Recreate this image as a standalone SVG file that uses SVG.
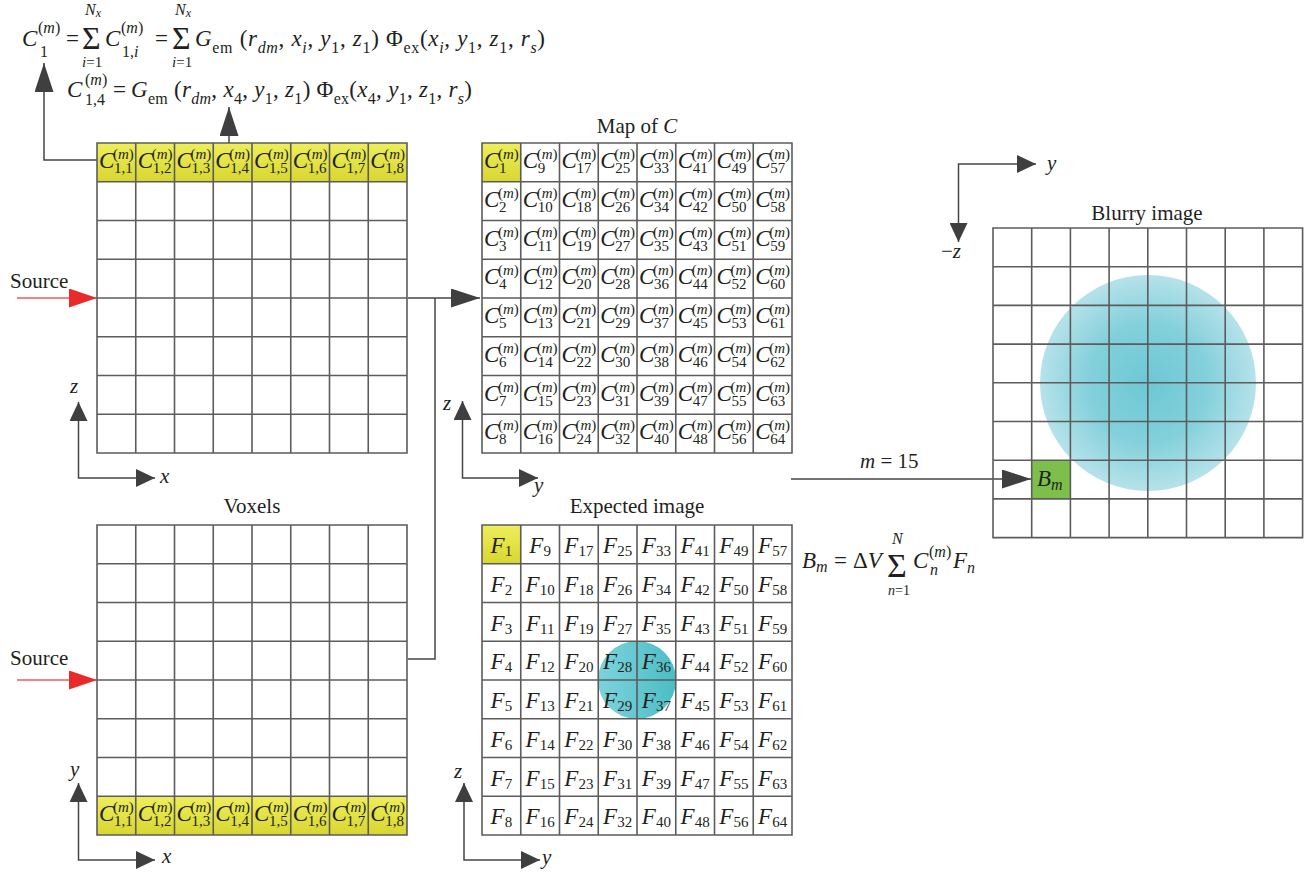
<svg xmlns="http://www.w3.org/2000/svg" xmlns:xlink="http://www.w3.org/1999/xlink" width="1307" height="874" viewBox="0 0 1307 874">
<style>
text{font-family:'Liberation Serif','DejaVu Serif',serif;fill:#231f20}
.it{font-style:italic}
.t21{font-size:21px}
.f23{font-size:23px}
.s16{font-size:16px}
.s15{font-size:15px}
.s14{font-size:14px}
.s12{font-size:12px}
.sig{font-size:32px}
.sigb{font-size:34px}
.cC{font-size:23px;font-style:italic}
.cs{font-size:15px}
.fl{font-size:23px;text-anchor:middle}
.fs{font-size:15px}
.ttl{font-size:21px;text-anchor:middle}
.grid{fill:none;stroke:#5c5c5c;stroke-width:1.6}
.con{fill:none;stroke:#454545;stroke-width:1.5}
.axis{fill:none;stroke:#454545;stroke-width:1.5;marker-start:url(#ax);marker-end:url(#ax)}
.red{fill:none;stroke:#f05a5a;stroke-width:1.5;marker-end:url(#ar)}
.yel{fill:url(#yg)}
</style>
<defs>
<linearGradient id="yg" x1="0" y1="0" x2="0" y2="1"><stop offset="0" stop-color="#eeee5c"/><stop offset="1" stop-color="#d8d630"/></linearGradient>
<radialGradient id="bg" cx="0.5" cy="0.5" r="0.5"><stop offset="0" stop-color="#6cc8d4"/><stop offset="0.55" stop-color="#83d0db"/><stop offset="1" stop-color="#b6e2ea"/></radialGradient>
<linearGradient id="eg" x1="0" y1="0" x2="1" y2="0"><stop offset="0" stop-color="#7dd3dc"/><stop offset="1" stop-color="#4bbdc5"/></linearGradient>
<marker id="ah" markerUnits="userSpaceOnUse" markerWidth="29" markerHeight="19" refX="29" refY="9.5" orient="auto"><path d="M0,0L29,9.5L0,19Z" fill="#3f3f3f"/></marker>
<marker id="ax" markerUnits="userSpaceOnUse" markerWidth="19" markerHeight="18" refX="19" refY="9" orient="auto-start-reverse"><path d="M0,0L19,9L0,18Z" fill="#3f3f3f"/></marker>
<marker id="ar" markerUnits="userSpaceOnUse" markerWidth="28" markerHeight="19" refX="28" refY="9.5" orient="auto"><path d="M0,0L28,9.5L0,19Z" fill="#e82a2a"/></marker>
<path id="g8" class="grid" d="M0,0H310V310H0Z M38.75,0V310 M77.5,0V310 M116.25,0V310 M155,0V310 M193.75,0V310 M232.5,0V310 M271.25,0V310 M0,38.75H310 M0,77.5H310 M0,116.25H310 M0,155H310 M0,193.75H310 M0,232.5H310 M0,271.25H310"/>
</defs>
<rect width="1307" height="874" fill="#fff"/>

<g id="formulas">
<g id="formula-c1" class="f23">
<text x="22" y="46" class="it">C</text>
<text x="38" y="33" class="s16">(<tspan class="it">m</tspan>)</text>
<text x="40" y="57" class="s16">1</text>
<text x="66" y="46">=</text>
<text x="82" y="49" class="sig">Σ</text>
<text x="85" y="15" class="s16 it">N<tspan class="s12" dy="2">x</tspan></text>
<text x="82" y="67" class="s15"><tspan class="it">i</tspan>=1</text>
<text x="105" y="46" class="it">C</text>
<text x="121" y="33" class="s16">(<tspan class="it">m</tspan>)</text>
<text x="122" y="57" class="s16">1,<tspan class="it">i</tspan></text>
<text x="155" y="46">=</text>
<text x="172" y="49" class="sig">Σ</text>
<text x="175" y="15" class="s16 it">N<tspan class="s12" dy="2">x</tspan></text>
<text x="172" y="67" class="s15"><tspan class="it">i</tspan>=1</text>
<text x="195" y="46" textLength="350" lengthAdjust="spacing"><tspan class="it">G</tspan><tspan class="s16" dy="7">em</tspan><tspan dy="-7"> (</tspan><tspan class="it">r</tspan><tspan class="s16 it" dy="7">dm</tspan><tspan dy="-7">, </tspan><tspan class="it">x</tspan><tspan class="s16 it" dy="7">i</tspan><tspan dy="-7">, </tspan><tspan class="it">y</tspan><tspan class="s16" dy="7">1</tspan><tspan dy="-7">, </tspan><tspan class="it">z</tspan><tspan class="s16" dy="7">1</tspan><tspan dy="-7">) Φ</tspan><tspan class="s16" dy="7">ex</tspan><tspan dy="-7">(</tspan><tspan class="it">x</tspan><tspan class="s16 it" dy="7">i</tspan><tspan dy="-7">, </tspan><tspan class="it">y</tspan><tspan class="s16" dy="7">1</tspan><tspan dy="-7">, </tspan><tspan class="it">z</tspan><tspan class="s16" dy="7">1</tspan><tspan dy="-7">, </tspan><tspan class="it">r</tspan><tspan class="s16 it" dy="7">s</tspan><tspan dy="-7">)</tspan></text>
</g>
<g id="formula-c14" class="f23">
<text x="67" y="97" class="it">C</text>
<text x="85" y="85" class="s16">(<tspan class="it">m</tspan>)</text>
<text x="85" y="105" class="s16">1,4</text>
<text x="113" y="97">=</text>
<text x="131" y="97" textLength="341" lengthAdjust="spacing"><tspan class="it">G</tspan><tspan class="s16" dy="7">em</tspan><tspan dy="-7"> (</tspan><tspan class="it">r</tspan><tspan class="s16 it" dy="7">dm</tspan><tspan dy="-7">, </tspan><tspan class="it">x</tspan><tspan class="s16" dy="7">4</tspan><tspan dy="-7">, </tspan><tspan class="it">y</tspan><tspan class="s16" dy="7">1</tspan><tspan dy="-7">, </tspan><tspan class="it">z</tspan><tspan class="s16" dy="7">1</tspan><tspan dy="-7">) Φ</tspan><tspan class="s16" dy="7">ex</tspan><tspan dy="-7">(</tspan><tspan class="it">x</tspan><tspan class="s16" dy="7">4</tspan><tspan dy="-7">, </tspan><tspan class="it">y</tspan><tspan class="s16" dy="7">1</tspan><tspan dy="-7">, </tspan><tspan class="it">z</tspan><tspan class="s16" dy="7">1</tspan><tspan dy="-7">, </tspan><tspan class="it">r</tspan><tspan class="s16 it" dy="7">s</tspan><tspan dy="-7">)</tspan></text>
</g>
<g id="formula-bm" class="f23">
<text x="802" y="568" class="it">B<tspan class="s16" dy="4">m</tspan></text>
<text x="834" y="568">=</text>
<text x="853" y="568">Δ<tspan class="it">V</tspan></text>
<text x="887" y="577" class="sigb">Σ</text>
<text x="892" y="544" class="s16 it">N</text>
<text x="888" y="595" class="s14"><tspan class="it">n</tspan>=1</text>
<text x="913" y="568" class="it">C</text>
<text x="929" y="557" class="s16">(<tspan class="it">m</tspan>)</text>
<text x="930" y="575" class="s16 it">n</text>
<text x="953" y="568" class="it">F<tspan class="s16" dy="5">n</tspan></text>
</g>
</g>

<g id="connectors">
<path class="con" d="M97,160H44V63" marker-end="url(#ah)"/>
<path class="con" d="M229,152V107" marker-end="url(#ah)"/>
<path class="con" d="M408,298H480" marker-end="url(#ah)"/>
<path class="con" d="M408,659H435V298"/>
<path class="con" d="M791,479H1031" marker-end="url(#ah)"/>
<path class="red" d="M17,298H97"/>
<path class="red" d="M17,680H97"/>
<text x="10" y="288" class="t21">Source</text>
<text x="10" y="665" class="t21">Source</text>
<text x="860" y="468" class="t21"><tspan class="it">m</tspan> = 15</text>
</g>

<g id="axes">
<path class="axis" d="M78.5,402V478H155"/>
<text x="70" y="393" class="t21 it">z</text>
<text x="160" y="483" class="t21 it">x</text>
<path class="axis" d="M78.5,783V860H155"/>
<text x="70" y="776" class="t21 it">y</text>
<text x="162" y="863" class="t21 it">x</text>
<path class="axis" d="M462.5,401V478H538"/>
<text x="443" y="410" class="t21 it">z</text>
<text x="534" y="492" class="t21 it">y</text>
<path class="axis" d="M464,783V860H540"/>
<text x="454" y="778" class="t21 it">z</text>
<text x="542" y="864" class="t21 it">y</text>
<path class="axis" d="M1036,164H958.5V242"/>
<text x="1047" y="170" class="t21 it">y</text>
<text x="941" y="258" class="t21">−<tspan class="it">z</tspan></text>
</g>

<g id="grid-top">
<rect class="yel" x="97" y="143" width="310" height="38.75"/>
<use xlink:href="#g8" x="97" y="143"/>
<text transform="translate(97,143)"><tspan x="2" y="25" class="cC">C</tspan><tspan x="16" y="16" class="cs">(<tspan class="it">m</tspan>)</tspan><tspan x="17" y="30" class="cs">1,1</tspan></text>
<text transform="translate(135.75,143)"><tspan x="2" y="25" class="cC">C</tspan><tspan x="16" y="16" class="cs">(<tspan class="it">m</tspan>)</tspan><tspan x="17" y="30" class="cs">1,2</tspan></text>
<text transform="translate(174.5,143)"><tspan x="2" y="25" class="cC">C</tspan><tspan x="16" y="16" class="cs">(<tspan class="it">m</tspan>)</tspan><tspan x="17" y="30" class="cs">1,3</tspan></text>
<text transform="translate(213.25,143)"><tspan x="2" y="25" class="cC">C</tspan><tspan x="16" y="16" class="cs">(<tspan class="it">m</tspan>)</tspan><tspan x="17" y="30" class="cs">1,4</tspan></text>
<text transform="translate(252,143)"><tspan x="2" y="25" class="cC">C</tspan><tspan x="16" y="16" class="cs">(<tspan class="it">m</tspan>)</tspan><tspan x="17" y="30" class="cs">1,5</tspan></text>
<text transform="translate(290.75,143)"><tspan x="2" y="25" class="cC">C</tspan><tspan x="16" y="16" class="cs">(<tspan class="it">m</tspan>)</tspan><tspan x="17" y="30" class="cs">1,6</tspan></text>
<text transform="translate(329.5,143)"><tspan x="2" y="25" class="cC">C</tspan><tspan x="16" y="16" class="cs">(<tspan class="it">m</tspan>)</tspan><tspan x="17" y="30" class="cs">1,7</tspan></text>
<text transform="translate(368.25,143)"><tspan x="2" y="25" class="cC">C</tspan><tspan x="16" y="16" class="cs">(<tspan class="it">m</tspan>)</tspan><tspan x="17" y="30" class="cs">1,8</tspan></text>
</g>

<g id="voxels">
<text x="252" y="513" class="ttl">Voxels</text>
<rect class="yel" x="97" y="796.25" width="310" height="38.75"/>
<use xlink:href="#g8" x="97" y="525"/>
<text transform="translate(97,796.25)"><tspan x="2" y="25" class="cC">C</tspan><tspan x="16" y="16" class="cs">(<tspan class="it">m</tspan>)</tspan><tspan x="17" y="30" class="cs">1,1</tspan></text>
<text transform="translate(135.75,796.25)"><tspan x="2" y="25" class="cC">C</tspan><tspan x="16" y="16" class="cs">(<tspan class="it">m</tspan>)</tspan><tspan x="17" y="30" class="cs">1,2</tspan></text>
<text transform="translate(174.5,796.25)"><tspan x="2" y="25" class="cC">C</tspan><tspan x="16" y="16" class="cs">(<tspan class="it">m</tspan>)</tspan><tspan x="17" y="30" class="cs">1,3</tspan></text>
<text transform="translate(213.25,796.25)"><tspan x="2" y="25" class="cC">C</tspan><tspan x="16" y="16" class="cs">(<tspan class="it">m</tspan>)</tspan><tspan x="17" y="30" class="cs">1,4</tspan></text>
<text transform="translate(252,796.25)"><tspan x="2" y="25" class="cC">C</tspan><tspan x="16" y="16" class="cs">(<tspan class="it">m</tspan>)</tspan><tspan x="17" y="30" class="cs">1,5</tspan></text>
<text transform="translate(290.75,796.25)"><tspan x="2" y="25" class="cC">C</tspan><tspan x="16" y="16" class="cs">(<tspan class="it">m</tspan>)</tspan><tspan x="17" y="30" class="cs">1,6</tspan></text>
<text transform="translate(329.5,796.25)"><tspan x="2" y="25" class="cC">C</tspan><tspan x="16" y="16" class="cs">(<tspan class="it">m</tspan>)</tspan><tspan x="17" y="30" class="cs">1,7</tspan></text>
<text transform="translate(368.25,796.25)"><tspan x="2" y="25" class="cC">C</tspan><tspan x="16" y="16" class="cs">(<tspan class="it">m</tspan>)</tspan><tspan x="17" y="30" class="cs">1,8</tspan></text>
</g>

<g id="map-of-c">
<text x="637" y="133" class="ttl">Map of <tspan class="it">C</tspan></text>
<rect class="yel" x="482" y="143" width="38.75" height="38.75"/>
<use xlink:href="#g8" x="482" y="143"/>
<g id="map-labels">
<text transform="translate(482,143)"><tspan x="2" y="25" class="cC">C</tspan><tspan x="16" y="16" class="cs">(<tspan class="it">m</tspan>)</tspan><tspan x="17" y="30" class="cs">1</tspan></text>
<text transform="translate(520.75,143)"><tspan x="2" y="25" class="cC">C</tspan><tspan x="16" y="16" class="cs">(<tspan class="it">m</tspan>)</tspan><tspan x="17" y="30" class="cs">9</tspan></text>
<text transform="translate(559.5,143)"><tspan x="2" y="25" class="cC">C</tspan><tspan x="16" y="16" class="cs">(<tspan class="it">m</tspan>)</tspan><tspan x="17" y="30" class="cs">17</tspan></text>
<text transform="translate(598.25,143)"><tspan x="2" y="25" class="cC">C</tspan><tspan x="16" y="16" class="cs">(<tspan class="it">m</tspan>)</tspan><tspan x="17" y="30" class="cs">25</tspan></text>
<text transform="translate(637,143)"><tspan x="2" y="25" class="cC">C</tspan><tspan x="16" y="16" class="cs">(<tspan class="it">m</tspan>)</tspan><tspan x="17" y="30" class="cs">33</tspan></text>
<text transform="translate(675.75,143)"><tspan x="2" y="25" class="cC">C</tspan><tspan x="16" y="16" class="cs">(<tspan class="it">m</tspan>)</tspan><tspan x="17" y="30" class="cs">41</tspan></text>
<text transform="translate(714.5,143)"><tspan x="2" y="25" class="cC">C</tspan><tspan x="16" y="16" class="cs">(<tspan class="it">m</tspan>)</tspan><tspan x="17" y="30" class="cs">49</tspan></text>
<text transform="translate(753.25,143)"><tspan x="2" y="25" class="cC">C</tspan><tspan x="16" y="16" class="cs">(<tspan class="it">m</tspan>)</tspan><tspan x="17" y="30" class="cs">57</tspan></text>
<text transform="translate(482,181.75)"><tspan x="2" y="25" class="cC">C</tspan><tspan x="16" y="16" class="cs">(<tspan class="it">m</tspan>)</tspan><tspan x="17" y="30" class="cs">2</tspan></text>
<text transform="translate(520.75,181.75)"><tspan x="2" y="25" class="cC">C</tspan><tspan x="16" y="16" class="cs">(<tspan class="it">m</tspan>)</tspan><tspan x="17" y="30" class="cs">10</tspan></text>
<text transform="translate(559.5,181.75)"><tspan x="2" y="25" class="cC">C</tspan><tspan x="16" y="16" class="cs">(<tspan class="it">m</tspan>)</tspan><tspan x="17" y="30" class="cs">18</tspan></text>
<text transform="translate(598.25,181.75)"><tspan x="2" y="25" class="cC">C</tspan><tspan x="16" y="16" class="cs">(<tspan class="it">m</tspan>)</tspan><tspan x="17" y="30" class="cs">26</tspan></text>
<text transform="translate(637,181.75)"><tspan x="2" y="25" class="cC">C</tspan><tspan x="16" y="16" class="cs">(<tspan class="it">m</tspan>)</tspan><tspan x="17" y="30" class="cs">34</tspan></text>
<text transform="translate(675.75,181.75)"><tspan x="2" y="25" class="cC">C</tspan><tspan x="16" y="16" class="cs">(<tspan class="it">m</tspan>)</tspan><tspan x="17" y="30" class="cs">42</tspan></text>
<text transform="translate(714.5,181.75)"><tspan x="2" y="25" class="cC">C</tspan><tspan x="16" y="16" class="cs">(<tspan class="it">m</tspan>)</tspan><tspan x="17" y="30" class="cs">50</tspan></text>
<text transform="translate(753.25,181.75)"><tspan x="2" y="25" class="cC">C</tspan><tspan x="16" y="16" class="cs">(<tspan class="it">m</tspan>)</tspan><tspan x="17" y="30" class="cs">58</tspan></text>
<text transform="translate(482,220.5)"><tspan x="2" y="25" class="cC">C</tspan><tspan x="16" y="16" class="cs">(<tspan class="it">m</tspan>)</tspan><tspan x="17" y="30" class="cs">3</tspan></text>
<text transform="translate(520.75,220.5)"><tspan x="2" y="25" class="cC">C</tspan><tspan x="16" y="16" class="cs">(<tspan class="it">m</tspan>)</tspan><tspan x="17" y="30" class="cs">11</tspan></text>
<text transform="translate(559.5,220.5)"><tspan x="2" y="25" class="cC">C</tspan><tspan x="16" y="16" class="cs">(<tspan class="it">m</tspan>)</tspan><tspan x="17" y="30" class="cs">19</tspan></text>
<text transform="translate(598.25,220.5)"><tspan x="2" y="25" class="cC">C</tspan><tspan x="16" y="16" class="cs">(<tspan class="it">m</tspan>)</tspan><tspan x="17" y="30" class="cs">27</tspan></text>
<text transform="translate(637,220.5)"><tspan x="2" y="25" class="cC">C</tspan><tspan x="16" y="16" class="cs">(<tspan class="it">m</tspan>)</tspan><tspan x="17" y="30" class="cs">35</tspan></text>
<text transform="translate(675.75,220.5)"><tspan x="2" y="25" class="cC">C</tspan><tspan x="16" y="16" class="cs">(<tspan class="it">m</tspan>)</tspan><tspan x="17" y="30" class="cs">43</tspan></text>
<text transform="translate(714.5,220.5)"><tspan x="2" y="25" class="cC">C</tspan><tspan x="16" y="16" class="cs">(<tspan class="it">m</tspan>)</tspan><tspan x="17" y="30" class="cs">51</tspan></text>
<text transform="translate(753.25,220.5)"><tspan x="2" y="25" class="cC">C</tspan><tspan x="16" y="16" class="cs">(<tspan class="it">m</tspan>)</tspan><tspan x="17" y="30" class="cs">59</tspan></text>
<text transform="translate(482,259.25)"><tspan x="2" y="25" class="cC">C</tspan><tspan x="16" y="16" class="cs">(<tspan class="it">m</tspan>)</tspan><tspan x="17" y="30" class="cs">4</tspan></text>
<text transform="translate(520.75,259.25)"><tspan x="2" y="25" class="cC">C</tspan><tspan x="16" y="16" class="cs">(<tspan class="it">m</tspan>)</tspan><tspan x="17" y="30" class="cs">12</tspan></text>
<text transform="translate(559.5,259.25)"><tspan x="2" y="25" class="cC">C</tspan><tspan x="16" y="16" class="cs">(<tspan class="it">m</tspan>)</tspan><tspan x="17" y="30" class="cs">20</tspan></text>
<text transform="translate(598.25,259.25)"><tspan x="2" y="25" class="cC">C</tspan><tspan x="16" y="16" class="cs">(<tspan class="it">m</tspan>)</tspan><tspan x="17" y="30" class="cs">28</tspan></text>
<text transform="translate(637,259.25)"><tspan x="2" y="25" class="cC">C</tspan><tspan x="16" y="16" class="cs">(<tspan class="it">m</tspan>)</tspan><tspan x="17" y="30" class="cs">36</tspan></text>
<text transform="translate(675.75,259.25)"><tspan x="2" y="25" class="cC">C</tspan><tspan x="16" y="16" class="cs">(<tspan class="it">m</tspan>)</tspan><tspan x="17" y="30" class="cs">44</tspan></text>
<text transform="translate(714.5,259.25)"><tspan x="2" y="25" class="cC">C</tspan><tspan x="16" y="16" class="cs">(<tspan class="it">m</tspan>)</tspan><tspan x="17" y="30" class="cs">52</tspan></text>
<text transform="translate(753.25,259.25)"><tspan x="2" y="25" class="cC">C</tspan><tspan x="16" y="16" class="cs">(<tspan class="it">m</tspan>)</tspan><tspan x="17" y="30" class="cs">60</tspan></text>
<text transform="translate(482,298)"><tspan x="2" y="25" class="cC">C</tspan><tspan x="16" y="16" class="cs">(<tspan class="it">m</tspan>)</tspan><tspan x="17" y="30" class="cs">5</tspan></text>
<text transform="translate(520.75,298)"><tspan x="2" y="25" class="cC">C</tspan><tspan x="16" y="16" class="cs">(<tspan class="it">m</tspan>)</tspan><tspan x="17" y="30" class="cs">13</tspan></text>
<text transform="translate(559.5,298)"><tspan x="2" y="25" class="cC">C</tspan><tspan x="16" y="16" class="cs">(<tspan class="it">m</tspan>)</tspan><tspan x="17" y="30" class="cs">21</tspan></text>
<text transform="translate(598.25,298)"><tspan x="2" y="25" class="cC">C</tspan><tspan x="16" y="16" class="cs">(<tspan class="it">m</tspan>)</tspan><tspan x="17" y="30" class="cs">29</tspan></text>
<text transform="translate(637,298)"><tspan x="2" y="25" class="cC">C</tspan><tspan x="16" y="16" class="cs">(<tspan class="it">m</tspan>)</tspan><tspan x="17" y="30" class="cs">37</tspan></text>
<text transform="translate(675.75,298)"><tspan x="2" y="25" class="cC">C</tspan><tspan x="16" y="16" class="cs">(<tspan class="it">m</tspan>)</tspan><tspan x="17" y="30" class="cs">45</tspan></text>
<text transform="translate(714.5,298)"><tspan x="2" y="25" class="cC">C</tspan><tspan x="16" y="16" class="cs">(<tspan class="it">m</tspan>)</tspan><tspan x="17" y="30" class="cs">53</tspan></text>
<text transform="translate(753.25,298)"><tspan x="2" y="25" class="cC">C</tspan><tspan x="16" y="16" class="cs">(<tspan class="it">m</tspan>)</tspan><tspan x="17" y="30" class="cs">61</tspan></text>
<text transform="translate(482,336.75)"><tspan x="2" y="25" class="cC">C</tspan><tspan x="16" y="16" class="cs">(<tspan class="it">m</tspan>)</tspan><tspan x="17" y="30" class="cs">6</tspan></text>
<text transform="translate(520.75,336.75)"><tspan x="2" y="25" class="cC">C</tspan><tspan x="16" y="16" class="cs">(<tspan class="it">m</tspan>)</tspan><tspan x="17" y="30" class="cs">14</tspan></text>
<text transform="translate(559.5,336.75)"><tspan x="2" y="25" class="cC">C</tspan><tspan x="16" y="16" class="cs">(<tspan class="it">m</tspan>)</tspan><tspan x="17" y="30" class="cs">22</tspan></text>
<text transform="translate(598.25,336.75)"><tspan x="2" y="25" class="cC">C</tspan><tspan x="16" y="16" class="cs">(<tspan class="it">m</tspan>)</tspan><tspan x="17" y="30" class="cs">30</tspan></text>
<text transform="translate(637,336.75)"><tspan x="2" y="25" class="cC">C</tspan><tspan x="16" y="16" class="cs">(<tspan class="it">m</tspan>)</tspan><tspan x="17" y="30" class="cs">38</tspan></text>
<text transform="translate(675.75,336.75)"><tspan x="2" y="25" class="cC">C</tspan><tspan x="16" y="16" class="cs">(<tspan class="it">m</tspan>)</tspan><tspan x="17" y="30" class="cs">46</tspan></text>
<text transform="translate(714.5,336.75)"><tspan x="2" y="25" class="cC">C</tspan><tspan x="16" y="16" class="cs">(<tspan class="it">m</tspan>)</tspan><tspan x="17" y="30" class="cs">54</tspan></text>
<text transform="translate(753.25,336.75)"><tspan x="2" y="25" class="cC">C</tspan><tspan x="16" y="16" class="cs">(<tspan class="it">m</tspan>)</tspan><tspan x="17" y="30" class="cs">62</tspan></text>
<text transform="translate(482,375.5)"><tspan x="2" y="25" class="cC">C</tspan><tspan x="16" y="16" class="cs">(<tspan class="it">m</tspan>)</tspan><tspan x="17" y="30" class="cs">7</tspan></text>
<text transform="translate(520.75,375.5)"><tspan x="2" y="25" class="cC">C</tspan><tspan x="16" y="16" class="cs">(<tspan class="it">m</tspan>)</tspan><tspan x="17" y="30" class="cs">15</tspan></text>
<text transform="translate(559.5,375.5)"><tspan x="2" y="25" class="cC">C</tspan><tspan x="16" y="16" class="cs">(<tspan class="it">m</tspan>)</tspan><tspan x="17" y="30" class="cs">23</tspan></text>
<text transform="translate(598.25,375.5)"><tspan x="2" y="25" class="cC">C</tspan><tspan x="16" y="16" class="cs">(<tspan class="it">m</tspan>)</tspan><tspan x="17" y="30" class="cs">31</tspan></text>
<text transform="translate(637,375.5)"><tspan x="2" y="25" class="cC">C</tspan><tspan x="16" y="16" class="cs">(<tspan class="it">m</tspan>)</tspan><tspan x="17" y="30" class="cs">39</tspan></text>
<text transform="translate(675.75,375.5)"><tspan x="2" y="25" class="cC">C</tspan><tspan x="16" y="16" class="cs">(<tspan class="it">m</tspan>)</tspan><tspan x="17" y="30" class="cs">47</tspan></text>
<text transform="translate(714.5,375.5)"><tspan x="2" y="25" class="cC">C</tspan><tspan x="16" y="16" class="cs">(<tspan class="it">m</tspan>)</tspan><tspan x="17" y="30" class="cs">55</tspan></text>
<text transform="translate(753.25,375.5)"><tspan x="2" y="25" class="cC">C</tspan><tspan x="16" y="16" class="cs">(<tspan class="it">m</tspan>)</tspan><tspan x="17" y="30" class="cs">63</tspan></text>
<text transform="translate(482,414.25)"><tspan x="2" y="25" class="cC">C</tspan><tspan x="16" y="16" class="cs">(<tspan class="it">m</tspan>)</tspan><tspan x="17" y="30" class="cs">8</tspan></text>
<text transform="translate(520.75,414.25)"><tspan x="2" y="25" class="cC">C</tspan><tspan x="16" y="16" class="cs">(<tspan class="it">m</tspan>)</tspan><tspan x="17" y="30" class="cs">16</tspan></text>
<text transform="translate(559.5,414.25)"><tspan x="2" y="25" class="cC">C</tspan><tspan x="16" y="16" class="cs">(<tspan class="it">m</tspan>)</tspan><tspan x="17" y="30" class="cs">24</tspan></text>
<text transform="translate(598.25,414.25)"><tspan x="2" y="25" class="cC">C</tspan><tspan x="16" y="16" class="cs">(<tspan class="it">m</tspan>)</tspan><tspan x="17" y="30" class="cs">32</tspan></text>
<text transform="translate(637,414.25)"><tspan x="2" y="25" class="cC">C</tspan><tspan x="16" y="16" class="cs">(<tspan class="it">m</tspan>)</tspan><tspan x="17" y="30" class="cs">40</tspan></text>
<text transform="translate(675.75,414.25)"><tspan x="2" y="25" class="cC">C</tspan><tspan x="16" y="16" class="cs">(<tspan class="it">m</tspan>)</tspan><tspan x="17" y="30" class="cs">48</tspan></text>
<text transform="translate(714.5,414.25)"><tspan x="2" y="25" class="cC">C</tspan><tspan x="16" y="16" class="cs">(<tspan class="it">m</tspan>)</tspan><tspan x="17" y="30" class="cs">56</tspan></text>
<text transform="translate(753.25,414.25)"><tspan x="2" y="25" class="cC">C</tspan><tspan x="16" y="16" class="cs">(<tspan class="it">m</tspan>)</tspan><tspan x="17" y="30" class="cs">64</tspan></text>
</g>
</g>

<g id="expected-image">
<text x="637" y="513" class="ttl">Expected image</text>
<rect class="yel" x="482" y="525" width="38.75" height="38.75"/>
<circle cx="637" cy="680" r="39" fill="url(#eg)"/>
<use xlink:href="#g8" x="482" y="525"/>
<g id="f-labels">
<text x="501.4" y="553" class="fl"><tspan class="it">F</tspan><tspan class="fs" dy="3">1</tspan></text>
<text x="540.15" y="553" class="fl"><tspan class="it">F</tspan><tspan class="fs" dy="3">9</tspan></text>
<text x="578.9" y="553" class="fl"><tspan class="it">F</tspan><tspan class="fs" dy="3">17</tspan></text>
<text x="617.65" y="553" class="fl"><tspan class="it">F</tspan><tspan class="fs" dy="3">25</tspan></text>
<text x="656.4" y="553" class="fl"><tspan class="it">F</tspan><tspan class="fs" dy="3">33</tspan></text>
<text x="695.15" y="553" class="fl"><tspan class="it">F</tspan><tspan class="fs" dy="3">41</tspan></text>
<text x="733.9" y="553" class="fl"><tspan class="it">F</tspan><tspan class="fs" dy="3">49</tspan></text>
<text x="772.65" y="553" class="fl"><tspan class="it">F</tspan><tspan class="fs" dy="3">57</tspan></text>
<text x="501.4" y="591.75" class="fl"><tspan class="it">F</tspan><tspan class="fs" dy="3">2</tspan></text>
<text x="540.15" y="591.75" class="fl"><tspan class="it">F</tspan><tspan class="fs" dy="3">10</tspan></text>
<text x="578.9" y="591.75" class="fl"><tspan class="it">F</tspan><tspan class="fs" dy="3">18</tspan></text>
<text x="617.65" y="591.75" class="fl"><tspan class="it">F</tspan><tspan class="fs" dy="3">26</tspan></text>
<text x="656.4" y="591.75" class="fl"><tspan class="it">F</tspan><tspan class="fs" dy="3">34</tspan></text>
<text x="695.15" y="591.75" class="fl"><tspan class="it">F</tspan><tspan class="fs" dy="3">42</tspan></text>
<text x="733.9" y="591.75" class="fl"><tspan class="it">F</tspan><tspan class="fs" dy="3">50</tspan></text>
<text x="772.65" y="591.75" class="fl"><tspan class="it">F</tspan><tspan class="fs" dy="3">58</tspan></text>
<text x="501.4" y="630.5" class="fl"><tspan class="it">F</tspan><tspan class="fs" dy="3">3</tspan></text>
<text x="540.15" y="630.5" class="fl"><tspan class="it">F</tspan><tspan class="fs" dy="3">11</tspan></text>
<text x="578.9" y="630.5" class="fl"><tspan class="it">F</tspan><tspan class="fs" dy="3">19</tspan></text>
<text x="617.65" y="630.5" class="fl"><tspan class="it">F</tspan><tspan class="fs" dy="3">27</tspan></text>
<text x="656.4" y="630.5" class="fl"><tspan class="it">F</tspan><tspan class="fs" dy="3">35</tspan></text>
<text x="695.15" y="630.5" class="fl"><tspan class="it">F</tspan><tspan class="fs" dy="3">43</tspan></text>
<text x="733.9" y="630.5" class="fl"><tspan class="it">F</tspan><tspan class="fs" dy="3">51</tspan></text>
<text x="772.65" y="630.5" class="fl"><tspan class="it">F</tspan><tspan class="fs" dy="3">59</tspan></text>
<text x="501.4" y="669.25" class="fl"><tspan class="it">F</tspan><tspan class="fs" dy="3">4</tspan></text>
<text x="540.15" y="669.25" class="fl"><tspan class="it">F</tspan><tspan class="fs" dy="3">12</tspan></text>
<text x="578.9" y="669.25" class="fl"><tspan class="it">F</tspan><tspan class="fs" dy="3">20</tspan></text>
<text x="617.65" y="669.25" class="fl"><tspan class="it">F</tspan><tspan class="fs" dy="3">28</tspan></text>
<text x="656.4" y="669.25" class="fl"><tspan class="it">F</tspan><tspan class="fs" dy="3">36</tspan></text>
<text x="695.15" y="669.25" class="fl"><tspan class="it">F</tspan><tspan class="fs" dy="3">44</tspan></text>
<text x="733.9" y="669.25" class="fl"><tspan class="it">F</tspan><tspan class="fs" dy="3">52</tspan></text>
<text x="772.65" y="669.25" class="fl"><tspan class="it">F</tspan><tspan class="fs" dy="3">60</tspan></text>
<text x="501.4" y="708" class="fl"><tspan class="it">F</tspan><tspan class="fs" dy="3">5</tspan></text>
<text x="540.15" y="708" class="fl"><tspan class="it">F</tspan><tspan class="fs" dy="3">13</tspan></text>
<text x="578.9" y="708" class="fl"><tspan class="it">F</tspan><tspan class="fs" dy="3">21</tspan></text>
<text x="617.65" y="708" class="fl"><tspan class="it">F</tspan><tspan class="fs" dy="3">29</tspan></text>
<text x="656.4" y="708" class="fl"><tspan class="it">F</tspan><tspan class="fs" dy="3">37</tspan></text>
<text x="695.15" y="708" class="fl"><tspan class="it">F</tspan><tspan class="fs" dy="3">45</tspan></text>
<text x="733.9" y="708" class="fl"><tspan class="it">F</tspan><tspan class="fs" dy="3">53</tspan></text>
<text x="772.65" y="708" class="fl"><tspan class="it">F</tspan><tspan class="fs" dy="3">61</tspan></text>
<text x="501.4" y="746.75" class="fl"><tspan class="it">F</tspan><tspan class="fs" dy="3">6</tspan></text>
<text x="540.15" y="746.75" class="fl"><tspan class="it">F</tspan><tspan class="fs" dy="3">14</tspan></text>
<text x="578.9" y="746.75" class="fl"><tspan class="it">F</tspan><tspan class="fs" dy="3">22</tspan></text>
<text x="617.65" y="746.75" class="fl"><tspan class="it">F</tspan><tspan class="fs" dy="3">30</tspan></text>
<text x="656.4" y="746.75" class="fl"><tspan class="it">F</tspan><tspan class="fs" dy="3">38</tspan></text>
<text x="695.15" y="746.75" class="fl"><tspan class="it">F</tspan><tspan class="fs" dy="3">46</tspan></text>
<text x="733.9" y="746.75" class="fl"><tspan class="it">F</tspan><tspan class="fs" dy="3">54</tspan></text>
<text x="772.65" y="746.75" class="fl"><tspan class="it">F</tspan><tspan class="fs" dy="3">62</tspan></text>
<text x="501.4" y="785.5" class="fl"><tspan class="it">F</tspan><tspan class="fs" dy="3">7</tspan></text>
<text x="540.15" y="785.5" class="fl"><tspan class="it">F</tspan><tspan class="fs" dy="3">15</tspan></text>
<text x="578.9" y="785.5" class="fl"><tspan class="it">F</tspan><tspan class="fs" dy="3">23</tspan></text>
<text x="617.65" y="785.5" class="fl"><tspan class="it">F</tspan><tspan class="fs" dy="3">31</tspan></text>
<text x="656.4" y="785.5" class="fl"><tspan class="it">F</tspan><tspan class="fs" dy="3">39</tspan></text>
<text x="695.15" y="785.5" class="fl"><tspan class="it">F</tspan><tspan class="fs" dy="3">47</tspan></text>
<text x="733.9" y="785.5" class="fl"><tspan class="it">F</tspan><tspan class="fs" dy="3">55</tspan></text>
<text x="772.65" y="785.5" class="fl"><tspan class="it">F</tspan><tspan class="fs" dy="3">63</tspan></text>
<text x="501.4" y="824.25" class="fl"><tspan class="it">F</tspan><tspan class="fs" dy="3">8</tspan></text>
<text x="540.15" y="824.25" class="fl"><tspan class="it">F</tspan><tspan class="fs" dy="3">16</tspan></text>
<text x="578.9" y="824.25" class="fl"><tspan class="it">F</tspan><tspan class="fs" dy="3">24</tspan></text>
<text x="617.65" y="824.25" class="fl"><tspan class="it">F</tspan><tspan class="fs" dy="3">32</tspan></text>
<text x="656.4" y="824.25" class="fl"><tspan class="it">F</tspan><tspan class="fs" dy="3">40</tspan></text>
<text x="695.15" y="824.25" class="fl"><tspan class="it">F</tspan><tspan class="fs" dy="3">48</tspan></text>
<text x="733.9" y="824.25" class="fl"><tspan class="it">F</tspan><tspan class="fs" dy="3">56</tspan></text>
<text x="772.65" y="824.25" class="fl"><tspan class="it">F</tspan><tspan class="fs" dy="3">64</tspan></text>
</g>
</g>

<g id="blurry-image">
<text x="1147" y="220" class="ttl">Blurry image</text>
<circle cx="1148" cy="383" r="108" fill="url(#bg)"/>
<rect x="1031.7" y="460.2" width="38.7" height="38.7" fill="#7cbf4a"/>
<use xlink:href="#g8" transform="translate(993,228) scale(0.99871)"/>
<text x="1037" y="486" class="f23 it">B<tspan class="s16" dy="4">m</tspan></text>
</g>
</svg>
